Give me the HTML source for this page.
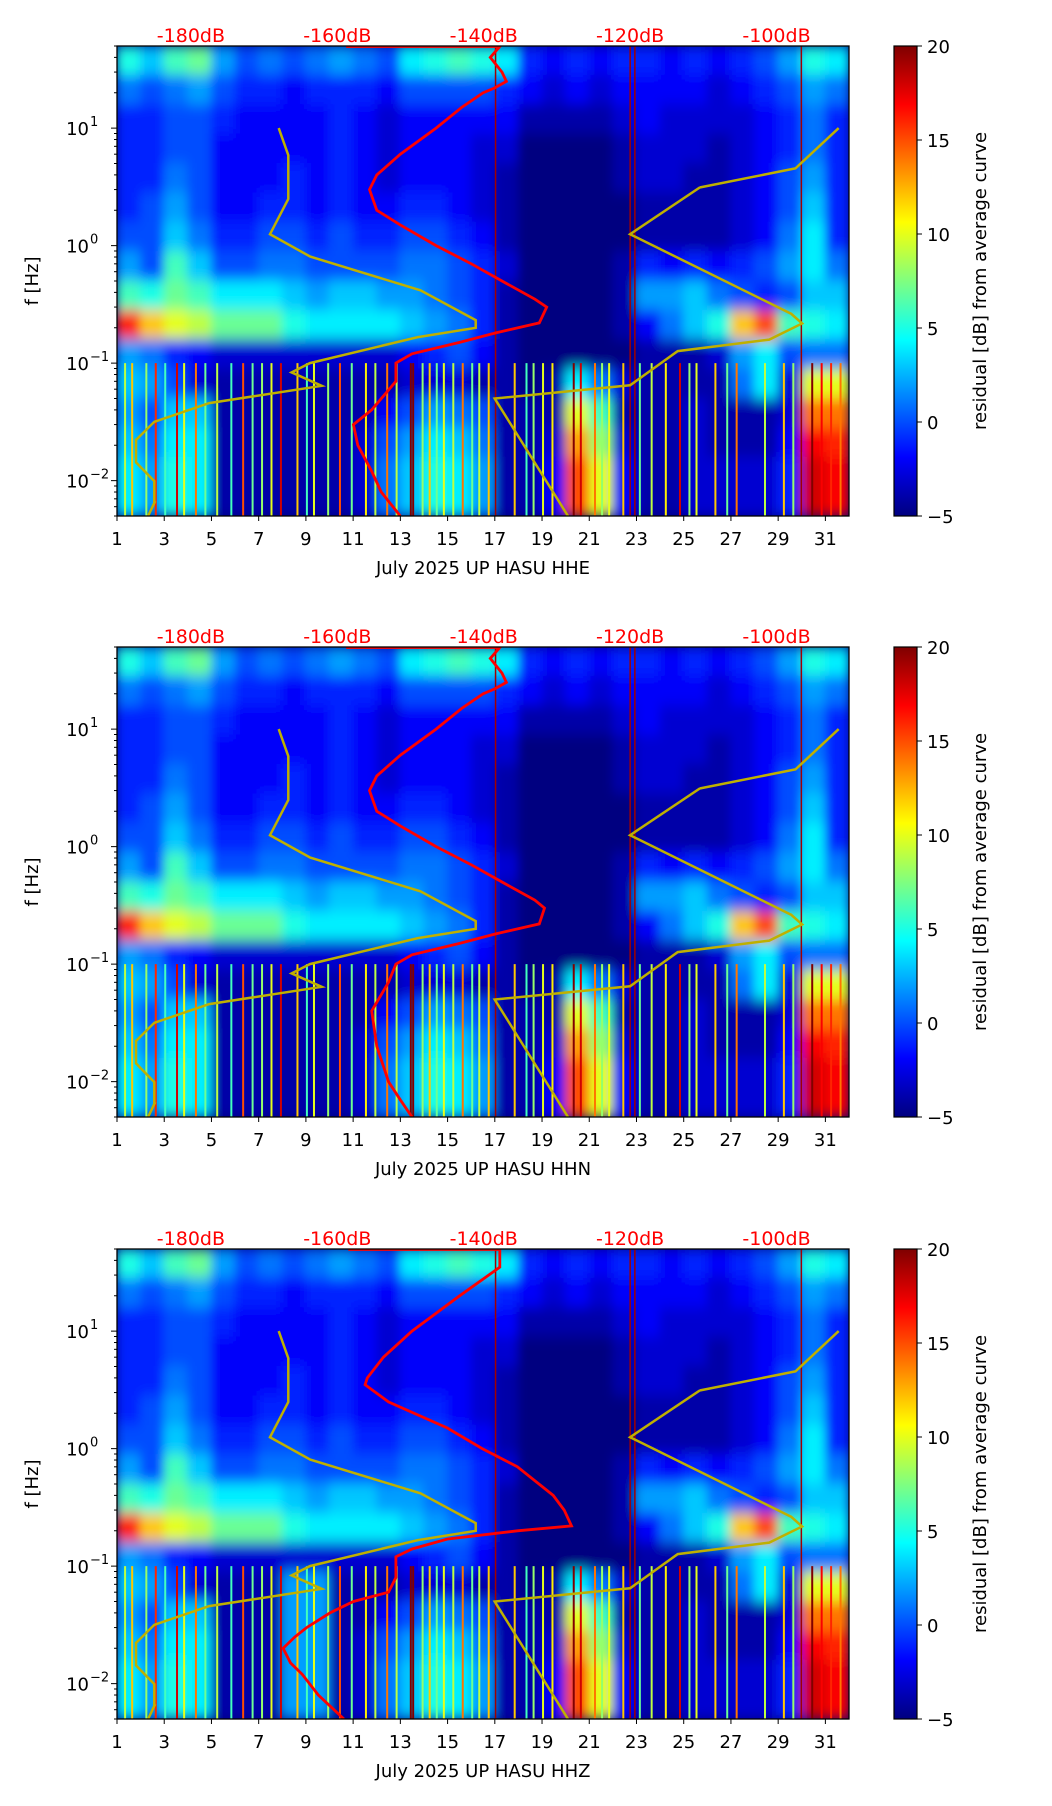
<!DOCTYPE html>
<html><head><meta charset="utf-8"><style>
html,body{margin:0;padding:0;background:#fff;}
svg{display:block;font-family:"DejaVu Sans","Liberation Sans",sans-serif;}
</style></head><body>
<svg id="fig" width="1052" height="1806" viewBox="0 0 1052 1806" xmlns="http://www.w3.org/2000/svg">
<defs>
<linearGradient id="jetg" x1="0" y1="1" x2="0" y2="0">
<stop offset="0" stop-color="#00007f"/><stop offset="0.125" stop-color="#0000ff"/><stop offset="0.375" stop-color="#00ffff"/><stop offset="0.625" stop-color="#ffff00"/><stop offset="0.875" stop-color="#ff0000"/><stop offset="1" stop-color="#7f0000"/>
</linearGradient>
<filter id="blur" x="-5%" y="-5%" width="110%" height="110%"><feGaussianBlur stdDeviation="5 7"/></filter>
</defs>
</svg>
<script>
// ---- data ----
const panelNames = ["HHE","HHN","HHZ"];
const dbTicks = [-180,-160,-140,-120,-100];
const dayTicks = [1,3,5,7,9,11,13,15,17,19,21,23,25,27,29,31];
const cbTicks = [-5,0,5,10,15,20];
// residual matrix rows: 16 bands (0.25 decade each, from 50 Hz down), 31 days
const residual = [
[5,3,6,7,2,0,1,0,1,2,1,0,4,5,6,5,4,-1,-2,-1,-2,-1,-1,-2,-1,-2,-1,0,2,5,4],
[1,0,1,2,0,-1,-1,-2,-1,-1,-1,-2,0,0,0,0,-1,-2,-3,-2,-3,-2,-2,-2,-2,-3,-2,-1,0,2,1],
[-1,-1,0,0,-1,-2,-2,-2,-2,-1,-2,-3,-2,-2,-2,-2,-2,-4,-4,-4,-4,-3,-2,-3,-3,-3,-3,-2,-1,1,-1],
[-1,-1,0,0,-2,-2,-2,-2,-2,-1,-2,-3,-2,-2,-2,-3,-3,-5,-5,-5,-5,-4,-3,-3,-3,-4,-3,-2,-1,1,-1],
[-1,-1,1,0,-2,-2,-2,-1,-2,-1,-2,-3,-2,-2,-2,-3,-4,-5,-5,-5,-5,-4,-3,-3,-4,-4,-3,-2,0,2,-1],
[-1,0,2,0,-2,-2,-1,-1,-2,-1,-2,-2,-1,-1,-2,-3,-4,-5,-5,-5,-5,-5,-4,-4,-4,-4,-3,-2,0,3,-1],
[0,0,3,1,-1,-1,0,0,-1,0,-1,-1,0,0,-1,-2,-4,-5,-5,-5,-5,-5,-4,-4,-4,-4,-3,-2,1,4,-1],
[2,0,6,3,0,0,1,1,0,0,0,0,1,1,0,-1,-3,-5,-5,-5,-5,-4,-1,-2,-1,-2,-1,0,2,4,1],
[6,5,7,6,4,4,4,3,2,3,3,2,2,1,0,-1,-4,-5,-5,-5,-5,-4,2,2,3,1,0,-1,0,3,3],
[16,12,10,9,7,7,7,5,4,4,4,4,3,2,1,-1,-4,-5,-5,-5,-5,-4,-2,1,3,5,12,15,6,5,4],
[2,1,-1,-2,-3,-3,-3,-3,-3,-3,-3,-3,-2,-1,0,-2,-4,-5,-5,-5,-5,-5,-4,-4,-4,-3,2,4,0,1,1],
[3,2,0,-3,-4,-4,-4,-4,-4,-4,-4,-4,-3,-3,-3,-4,-4,-5,-4,4,1,-3,-4,-4,-4,-4,1,4,-3,10,10],
[2,0,3,3,-4,-4,-4,-4,-4,-4,-4,-2,0,2,1,0,-4,-4,-4,10,6,-4,-4,-4,-3,-4,-4,-4,-3,14,14],
[3,1,4,4,-4,-4,-4,-4,-4,-4,-3,0,2,4,3,1,-4,-4,-3,13,8,-3,-4,-4,-3,-4,-4,-4,-2,17,16],
[4,2,5,4,-4,-4,-4,-4,-4,-4,-3,1,3,5,4,2,-4,-4,-2,15,10,-2,-4,-4,-3,-3,-3,-3,-1,18,17],
[4,2,5,4,-4,-4,-4,-4,-4,-4,-3,1,3,5,4,2,-4,-4,-2,15,10,-2,-4,-4,-3,-3,-3,-3,-1,18,17]
];
// thin vertical streaks at low frequency (day, value)
const streakDays = [1.3,1.6,2.2,2.6,3.0,3.5,3.8,4.3,4.7,5.2,5.8,6.3,6.7,7.1,7.5,7.9,8.6,9.0,9.3,9.9,10.4,10.9,11.5,11.9,12.4,12.8,13.4,13.5,13.9,14.2,14.5,14.8,15.2,15.6,16.0,16.3,16.7,17.8,18.3,18.6,19.0,19.4,20.3,20.6,21.2,21.5,21.8,22.4,23.1,23.6,24.2,24.8,25.2,25.5,26.3,26.8,27.2,28.4,29.2,29.6,30.4,30.8,31.2,31.6];
const streakVals = [9,12,8,16,6,18,10,14,7,9,6,15,7,8,10,18,12,6,10,8,15,7,11,9,14,9,20,20,8,12,7,10,9,14,7,9,12,12,6,8,10,11,20,18,14,8,10,12,7,9,11,18,8,10,12,7,14,9,12,8,20,17,16,14];
// full-height dark red lines (days)
const redLineDays = [17.0,22.7,22.9,29.95];
// Peterson NLNM/NHNM: period breakpoints, A, B
const nlnmP = [0.10,0.17,0.40,0.80,1.24,2.40,4.30,5.00,6.00,10.00,12.00,15.60,21.90,31.60,45.00,70.00,101.00,154.00,328.00];
const nlnmA = [-162.36,-166.7,-170.00,-166.40,-168.60,-159.98,-141.10,-71.36,-97.26,-132.18,-205.27,-37.65,-114.37,-160.58,-187.50,-216.47,-185.00,-168.34,-217.43];
const nlnmB = [5.64,0,-8.30,28.90,52.48,29.81,0,-99.77,-66.49,-31.57,36.16,-104.33,-47.10,-16.28,0,15.70,0,-7.61,11.90];
const nhnmP = [0.10,0.22,0.32,0.80,3.80,4.60,6.30,7.90,15.40,20.00,354.8];
const nhnmA = [-108.73,-150.34,-122.31,-116.85,-108.48,-74.66,0.66,-93.37,73.54,-151.52,-206.66];
const nhnmB = [-17.23,-80.50,-23.87,32.51,18.08,-32.95,-127.18,-22.42,-162.98,10.01,31.63];
// measured PSD curves: frequency [Hz] and dB
const psdFreq1 = [49.5,49.5,40,30,25,22,20,15,10,6,4,3,2,1.5,1,0.7,0.5,0.35,0.3,0.22,0.18,0.15,0.12,0.1,0.07,0.04,0.03,0.02,0.012,0.008,0.005];
const psdDb1 = [-158.8,-137.8,-139.1,-137.5,-136.9,-138.5,-140.1,-143,-146.5,-151.4,-154.6,-155.6,-154.6,-151.4,-146.5,-141.7,-137.5,-133,-131.4,-132.4,-138.5,-143.3,-149.8,-152,-152,-155.3,-157.8,-157.2,-155.3,-154,-151.4];
const psdFreq2 = [49.5,49.5,40,30,25,22,20,15,10,6,4,3,2,1.5,1,0.7,0.5,0.35,0.3,0.22,0.18,0.15,0.12,0.1,0.07,0.04,0.02,0.01,0.007,0.005];
const psdDb2 = [-158.8,-137.8,-139.1,-137.5,-136.9,-138.5,-140.1,-143,-146.5,-151.4,-154.6,-155.6,-154.6,-151.4,-146.5,-141.7,-137.5,-133,-131.7,-132.4,-138.5,-143.3,-149.8,-152,-153,-155.3,-154.6,-153,-151.4,-149.8];
const psdFreq3 = [49.5,49.5,35,20,10,6,4,3.5,2.5,1.5,1,0.7,0.4,0.3,0.22,0.2,0.17,0.14,0.12,0.08,0.06,0.05,0.04,0.03,0.025,0.02,0.015,0.012,0.008,0.005];
const psdDb3 = [-158.5,-137.8,-137.8,-143.3,-149.8,-153.7,-155.9,-156.2,-153,-145,-140.2,-135.4,-130.5,-129,-128,-135.4,-145,-149.8,-152,-152,-153,-157.8,-161,-164.2,-165.8,-167.4,-166.4,-164.8,-162.6,-159.1];
const psdFreqs = [psdFreq1,psdFreq2,psdFreq3];
const psdDbs = [psdDb1,psdDb2,psdDb3];

// ---- geometry ----
const NS="http://www.w3.org/2000/svg";
const svg=document.getElementById('fig');
const L=117,R=849,W=R-L,H=470;
const tops=[46,647,1249];
const fMax=50,fMin=0.005;
function xDay(d){return L+(d-1)/31*W;}
function yF(f,top){return top+(Math.log10(fMax)-Math.log10(f))/(Math.log10(fMax)-Math.log10(fMin))*H;}
function dbToDay(db){return 4.13+(db+180)*0.31;}
function jet(v){let t=Math.max(0,Math.min(1,(v+5)/25));
 const c=x=>Math.round(255*Math.max(0,Math.min(1,x)));
 return `rgb(${c(1.5-Math.abs(4*t-3))},${c(1.5-Math.abs(4*t-2))},${c(1.5-Math.abs(4*t-1))})`;}
function el(tag,attrs,parent){const e=document.createElementNS(NS,tag);for(const k in attrs)e.setAttribute(k,attrs[k]);(parent||svg).appendChild(e);return e;}
function txt(s,attrs,parent){const e=el('text',attrs,parent);e.textContent=s;return e;}
function modelPts(P,A,B,pmax,top){const pts=[];
 for(let i=0;i<P.length;i++){const p0=P[i];let p1=i+1<P.length?P[i+1]:pmax;if(p0>=pmax)break;if(p1>pmax)p1=pmax;
  for(const p of [p0,p1]){const db=A[i]+B[i]*Math.log10(p);pts.push([xDay(dbToDay(db)),yF(1/p,top)]);}}
 return pts.map(p=>p[0].toFixed(1)+','+p[1].toFixed(1)).join(' ');}

tops.forEach((top,pi)=>{
 const g=el('g',{});
 
 
 const cid='clip'+pi;
 const cp=el('clipPath',{id:cid},g);el('rect',{x:L,y:top,width:W,height:H},cp);
 const bg=el('rect',{x:L,y:top,width:W,height:H,fill:'#00007f'},g);
 
 
 const hm=el('g',{'clip-path':`url(#${cid})`},g);
 
 
 const hb=el('g',{filter:'url(#blur)'},hm);
 const nb=residual.length,bandH=H/nb;
 residual.forEach((row,ri)=>row.forEach((v,di)=>{
  let val=v;
  if(pi===2&&ri>=11&&(di===7||di===8))val=v+6;
  const r=el('rect',{x:xDay(di+1)-0.5,y:top+ri*bandH-0.5,width:W/31+1,height:bandH+1,fill:jet(val)},hb);
  
  
 }));
 streakDays.forEach((d,i)=>{
  const s=el('rect',{x:xDay(d),y:yF(0.1,top),width:2,height:yF(fMin,top)-yF(0.1,top),fill:jet(streakVals[i])},hm);
  
  
 });
 redLineDays.forEach(d=>{
  const s=el('rect',{x:xDay(d),y:top,width:1.5,height:H,fill:'#a00000'},hm);
  
  
 });
 // models
 const nl=el('polyline',{points:modelPts(nlnmP,nlnmA,nlnmB,200,top),fill:'none',stroke:'#bfb000',"stroke-width":2.5,'clip-path':`url(#${cid})`},g);
 
 
 const nh=el('polyline',{points:modelPts(nhnmP,nhnmA,nhnmB,200,top),fill:'none',stroke:'#bfb000',"stroke-width":2.5,'clip-path':`url(#${cid})`},g);
 
 
 const fr=psdFreqs[pi],dbs=psdDbs[pi];
 const pp=fr.map((f,i)=>xDay(dbToDay(dbs[i])).toFixed(1)+','+yF(f,top).toFixed(1)).join(' ');
 const pl=el('polyline',{points:pp,fill:'none',stroke:'#ff0000',"stroke-width":2.8,'clip-path':`url(#${cid})`},g);
 
 
 // frame
 const fr2=el('rect',{x:L,y:top,width:W,height:H,fill:'none',stroke:'#000',"stroke-width":1.3},g);
 
 
 // x ticks
 dayTicks.forEach(d=>{
  const x=xDay(d);
  el('line',{x1:x,y1:top+H,x2:x,y2:top+H+5,stroke:'#000'},g);
  const t=txt(String(d),{x:x,y:top+H+29,'font-size':18,'text-anchor':'middle',fill:'#000'},g);
  
  
 });
 const xl=txt('July 2025 UP HASU  '+panelNames[pi],{x:(L+R)/2,y:top+H+58,'font-size':18,'text-anchor':'middle',fill:'#000'},g);
 
 
 // top dB labels
 dbTicks.forEach(db=>{
  const t=txt(db+'dB',{x:xDay(dbToDay(db)),y:top-4,'font-size':19,'text-anchor':'middle',fill:'#ff0000'},g);
  
  
 });
 // y ticks
 for(let e=-3;e<=1;e++){for(let m=1;m<=9;m++){const f=m*Math.pow(10,e);if(f<fMin||f>fMax)continue;const y=yF(f,top);
   el('line',{x1:L-(m===1?6:3),y1:y,x2:L,y2:y,stroke:'#000'},g);}}
 [1,0,-1,-2].forEach(e=>{
  const t=txt('10',{x:L-28,y:yF(Math.pow(10,e),top)+7,'font-size':18,'text-anchor':'end',fill:'#000'},g);
  
  
  txt(e<0?'\u2212'+(-e):String(e),{x:L-27,y:yF(Math.pow(10,e),top)-2,'font-size':13,'text-anchor':'start',fill:'#000'},g);
 });
 const yl=txt('f [Hz]',{x:0,y:0,'font-size':18,'text-anchor':'middle',fill:'#000',transform:`translate(38,${top+H/2}) rotate(-90)`},g);
 
 
 // colorbar
 const cbx=894,cbw=23;
 const cb=el('rect',{x:cbx,y:top,width:cbw,height:H,fill:'url(#jetg)',stroke:'#000',"stroke-width":1.2},g);
 
 
 cbTicks.forEach(v=>{
  const y=top+H-(v+5)/25*H;
  el('line',{x1:cbx+cbw,y1:y,x2:cbx+cbw+5,y2:y,stroke:'#000'},g);
  const t=txt(v<0?'\u2212'+(-v):String(v),{x:cbx+cbw+10,y:y+7,'font-size':18,fill:'#000'},g);
  
  
 });
 const cl=txt('residual [dB] from average curve',{x:0,y:0,'font-size':18,'text-anchor':'middle',fill:'#000',transform:`translate(986,${top+H/2}) rotate(-90)`},g);
 
 
});
</script>
</body></html>
